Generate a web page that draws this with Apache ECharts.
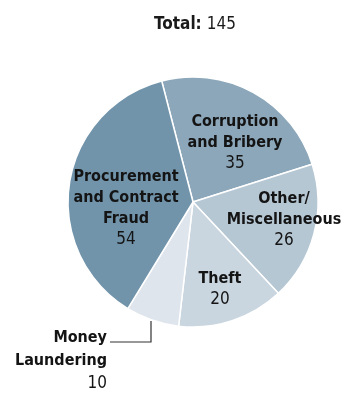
<!DOCTYPE html>
<html>
<head>
<meta charset="utf-8">
<script src="https://cdn.jsdelivr.net/npm/echarts@6/dist/echarts.min.js"></script>
<style>
html,body{margin:0;padding:0;background:#fff;}
#chart{width:351px;height:393px;}
</style>
</head>
<body>
<div id="chart"></div>
<script>
const categories = ['Corruption\nand Bribery', 'Other/\nMiscellaneous', 'Theft', 'Money\nLaundering', 'Procurement\nand Contract\nFraud'];
const values = [35, 26, 20, 10, 54];
const total = 145;
const colors = ['#8ca7ba', '#b6c7d4', '#c9d5df', '#dfe5ec', '#7194ab'];
// label anchor positions (px)
const labelPos = [[235, 143], [284, 220], [220, 289], [107, 361], [126, 208]];

const FONT = '"DejaVu Sans Condensed", sans-serif';
const chart = echarts.init(document.getElementById('chart'));
chart.setOption({
  animation: false,
  title: {
    text: '{b|Total:} {n|' + total + '}',
    left: 190, top: 11, textAlign: 'center',
    textStyle: {
      rich: {
        b: {fontFamily: FONT, fontWeight: 'bold', fontSize: 17, color: '#1a1a1a'},
        n: {fontFamily: FONT, fontWeight: 'normal', fontSize: 17, color: '#1a1a1a'}
      }
    }
  },
  series: [{
    type: 'pie',
    center: [193, 202],
    radius: [0, 125],
    startAngle: 104.5,
    clockwise: true,
    itemStyle: {borderColor: '#fff', borderWidth: 1.5},
    label: {
      show: true,
      position: 'inside',
      formatter: p => p.name.split('\n').map(s => '{b|' + s + '}').join('\n') + '\n{n|' + p.value + '}',
      rich: {
        b: {fontFamily: FONT, fontWeight: 'bold', fontSize: 16, lineHeight: 21, color: '#141414', align: 'center'},
        n: {fontFamily: FONT, fontWeight: 'normal', fontSize: 17, lineHeight: 21, color: '#141414', align: 'center'}
      }
    },
    labelLine: {show: false},
    labelLayout: function (params) {
      const i = params.dataIndex;
      const o = {x: labelPos[i][0], y: labelPos[i][1], align: 'center', verticalAlign: 'middle'};
      if (i === 3) {
        o.align = 'right';
        o.labelLinePoints = [[151, 321], [151, 342], [110, 342]];
      }
      return o;
    },
    data: categories.map((c, i) => {
      const d = {name: c, value: values[i], itemStyle: {color: colors[i]}};
      if (i === 3) {
        d.label = {position: 'outside', rich: {
          b: {fontFamily: FONT, fontWeight: 'bold', fontSize: 16, lineHeight: 23, color: '#141414', align: 'right'},
          n: {fontFamily: FONT, fontWeight: 'normal', fontSize: 17, lineHeight: 23, color: '#141414', align: 'right'}
        }};
        d.labelLine = {show: true, lineStyle: {color: '#333', width: 1.2}};
      }
      return d;
    })
  }]
});
</script>
</body>
</html>
